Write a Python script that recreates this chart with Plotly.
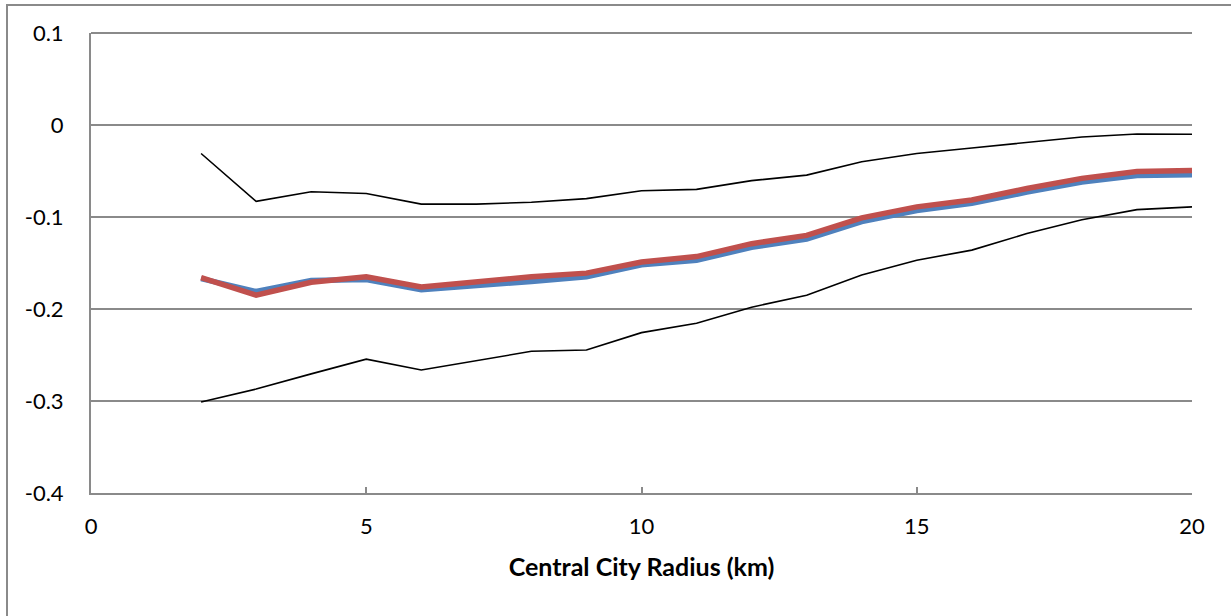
import plotly.graph_objects as go

# Central city radius (km)
radius = [2, 3, 4, 5, 6, 7, 8, 9, 10, 11, 12, 13, 14, 15, 16, 17, 18, 19, 20]

# Point estimates and confidence bounds
estimate_blue = [-0.167, -0.181, -0.169, -0.168, -0.179, -0.175, -0.170, -0.165, -0.152,
                 -0.147, -0.133, -0.124, -0.105, -0.093, -0.085, -0.073, -0.062, -0.055, -0.054]
estimate_red = [-0.166, -0.185, -0.171, -0.165, -0.176, -0.170, -0.165, -0.161, -0.149,
                -0.143, -0.129, -0.120, -0.101, -0.089, -0.0815, -0.069, -0.058, -0.0505, -0.0495]
upper_bound = [-0.031, -0.083, -0.0725, -0.0745, -0.086, -0.086, -0.084, -0.080, -0.0715,
               -0.070, -0.0605, -0.0545, -0.040, -0.031, -0.025, -0.019, -0.013, -0.0098, -0.010]
lower_bound = [-0.301, -0.287, -0.2705, -0.2545, -0.2663, -0.256, -0.246, -0.2446, -0.2257,
               -0.2155, -0.198, -0.185, -0.163, -0.147, -0.136, -0.118, -0.103, -0.092, -0.089]

x_ticks = [0, 5, 10, 15, 20]
y_ticks = [0.1, 0, -0.1, -0.2, -0.3, -0.4]
y_tick_text = ["0.1", "0", "-0.1", "-0.2", "-0.3", "-0.4"]

FONT = "Lato, 'Open Sans', sans-serif"
GRID = "#8a8a8a"

fig = go.Figure()
fig.add_trace(go.Scatter(x=radius, y=upper_bound, mode="lines",
                         line=dict(color="black", width=1.6), showlegend=False))
fig.add_trace(go.Scatter(x=radius, y=lower_bound, mode="lines",
                         line=dict(color="black", width=1.6), showlegend=False))
fig.add_trace(go.Scatter(x=radius, y=estimate_blue, mode="lines",
                         line=dict(color="#4F81BD", width=5.5), showlegend=False))
fig.add_trace(go.Scatter(x=radius, y=estimate_red, mode="lines",
                         line=dict(color="#C0504D", width=5.5), showlegend=False))

l, r, t, b = 91, 39, 33, 123
W, H = 1231, 616
pw, ph = W - l - r, H - t - b

# outer chart frame
fig.add_shape(type="rect", xref="paper", yref="paper",
              x0=(7 - l) / pw, x1=(1240 - l) / pw,
              y0=-(630 - (H - b)) / ph, y1=1 + (t - 5) / ph,
              line=dict(color=GRID, width=2), fillcolor="rgba(0,0,0,0)", layer="above")

# top gridline at the upper end of the value axis
fig.add_shape(type="line", xref="paper", yref="paper", x0=0, x1=1, y0=1, y1=1,
              line=dict(color=GRID, width=2), layer="above")

fig.update_layout(
    width=W, height=H,
    margin=dict(l=l, r=r, t=t, b=b),
    paper_bgcolor="white", plot_bgcolor="white",
    font=dict(family=FONT, size=22, color="black"),
    xaxis=dict(
        range=[0, 20], tickvals=x_ticks, showgrid=False, zeroline=False,
        showline=True, linecolor=GRID, linewidth=2,
        ticks="inside", ticklen=6, tickcolor=GRID, tickwidth=1.5,
        ticklabelstandoff=13,
        title=dict(text="<b>Central City Radius (km)</b>", standoff=20,
                   font=dict(family=FONT, size=25)),
    ),
    yaxis=dict(
        range=[-0.4, 0.1], tickvals=y_ticks, ticktext=y_tick_text,
        showgrid=True, gridcolor=GRID, gridwidth=1.5, zeroline=False,
        showline=True, linecolor=GRID, linewidth=2,
        ticks="", ticklabelstandoff=21,
    ),
)

fig.write_html("out.html")
